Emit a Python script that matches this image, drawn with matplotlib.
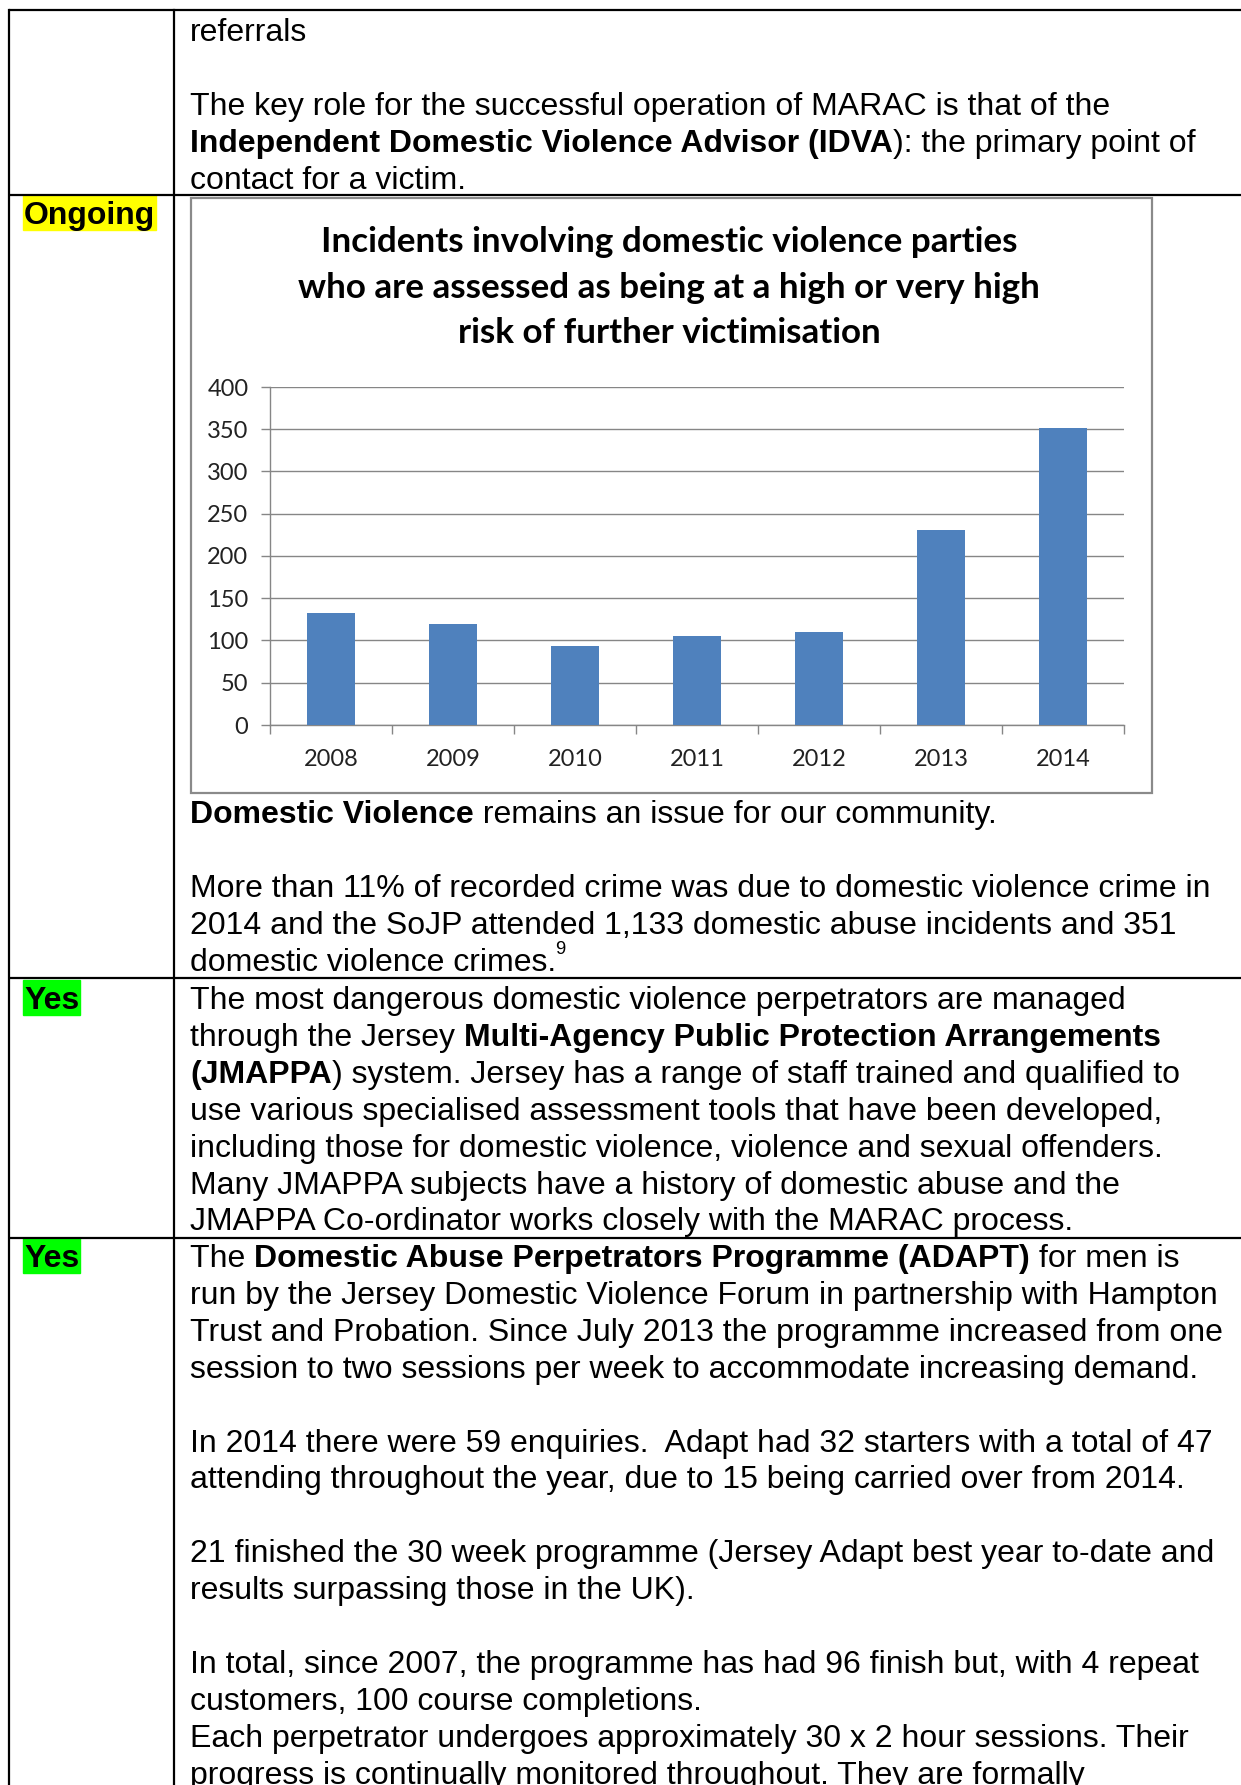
import matplotlib
matplotlib.use("Agg")
import matplotlib.pyplot as plt
from matplotlib.patches import Rectangle
from matplotlib.font_manager import FontProperties

# chart data
years = ["2008", "2009", "2010", "2011", "2012", "2013", "2014"]
incidents = [132, 119, 94, 105, 110, 231, 352]
y_ticks = [0, 50, 100, 150, 200, 250, 300, 350, 400]
chart_title = [
    "Incidents involving domestic violence parties",
    "who are assessed as being at a high or very high",
    "risk of further victimisation",
]

# table text: each line is a list of (text, bold) pieces, [] is a blank line
row1_lines = [
    [("referrals", False)],
    [],
    [("The key role for the successful operation of MARAC is that of the", False)],
    [("Independent Domestic Violence Advisor (IDVA", True), ("): the primary point of", False)],
    [("contact for a victim.", False)],
]
row2_lines = [
    [("Domestic Violence", True), (" remains an issue for our community.", False)],
    [],
    [("More than 11% of recorded crime was due to domestic violence crime in", False)],
    [("2014 and the SoJP attended 1,133 domestic abuse incidents and 351", False)],
    [("domestic violence crimes.", False)],
]
row3_lines = [
    [("The most dangerous domestic violence perpetrators are managed", False)],
    [("through the Jersey ", False), ("Multi-Agency Public Protection Arrangements", True)],
    [("(JMAPPA", True), (") system. Jersey has a range of staff trained and qualified to", False)],
    [("use various specialised assessment tools that have been developed,", False)],
    [("including those for domestic violence, violence and sexual offenders.", False)],
    [("Many JMAPPA subjects have a history of domestic abuse and the", False)],
    [("JMAPPA Co-ordinator works closely with the MARAC process.", False)],
]
row4_lines = [
    [("The ", False), ("Domestic Abuse Perpetrators Programme (ADAPT)", True), (" for men is", False)],
    [("run by the Jersey Domestic Violence Forum in partnership with Hampton", False)],
    [("Trust and Probation. Since July 2013 the programme increased from one", False)],
    [("session to two sessions per week to accommodate increasing demand.", False)],
    [],
    [("In 2014 there were 59 enquiries.  Adapt had 32 starters with a total of 47", False)],
    [("attending throughout the year, due to 15 being carried over from 2014.", False)],
    [],
    [("21 finished the 30 week programme (Jersey Adapt best year to-date and", False)],
    [("results surpassing those in the UK).", False)],
    [],
    [("In total, since 2007, the programme has had 96 finish but, with 4 repeat", False)],
    [("customers, 100 course completions.", False)],
    [("Each perpetrator undergoes approximately 30 x 2 hour sessions. Their", False)],
    [("progress is continually monitored throughout. They are formally", False)],
]

W, H = 1241, 1785
BODY_FONT = "Liberation Sans"
CHART_FONT = "Lato"
LINE_STEP = 36.9

fig = plt.figure(figsize=(W / 100, H / 100), dpi=100)
page = fig.add_axes([0, 0, 1, 1])
page.set_xlim(0, W)
page.set_ylim(H, 0)
page.axis("off")
renderer = fig.canvas.get_renderer()


def text_width(s, family, size, weight="normal"):
    fp = FontProperties(family=family, size=size, weight=weight)
    w1 = renderer.get_text_width_height_descent(s + "|", fp, ismath=False)[0]
    w2 = renderer.get_text_width_height_descent("|", fp, ismath=False)[0]
    return w1 - w2


# fit body font so the long reference line is as wide as in the document
body_size = 23.0 * 1022 / text_width(row2_lines[2][0][0], BODY_FONT, 23.0)


def write_block(y0, lines, x0=190):
    for i, line in enumerate(lines):
        x = x0
        y = y0 + i * LINE_STEP
        for s, bold in line:
            w = "bold" if bold else "normal"
            page.text(x, y, s, family=BODY_FONT, fontsize=body_size,
                      weight=w, va="baseline", ha="left", color="black")
            x += text_width(s, BODY_FONT, body_size, w)
    return x, y0 + (len(lines) - 1) * LINE_STEP


def status(y, label, colour):
    w = text_width(label, BODY_FONT, body_size, "bold")
    page.add_patch(Rectangle((23, y - 29), w + 2, 35, color=colour, zorder=1))
    page.text(24, y, label, family=BODY_FONT, fontsize=body_size,
              weight="bold", va="baseline", zorder=2)


# table grid
lw = 1.6
for yy in [10, 195, 978, 1238]:
    page.plot([9, W], [yy, yy], color="black", lw=lw, solid_capstyle="butt")
page.plot([9, 9], [10, H], color="black", lw=lw)
page.plot([174, 174], [10, H], color="black", lw=lw)

write_block(41, row1_lines)
x_end, y_end = write_block(823, row2_lines)
page.text(x_end - 1, y_end - 17, "9", family=BODY_FONT,
          fontsize=body_size * 0.58, va="baseline")
write_block(1009, row3_lines)
write_block(1267, row4_lines)

status(224, "Ongoing", "#FFFF00")
status(1009, "Yes", "#00FF00")
status(1267, "Yes", "#00FF00")

# chart frame and title
page.add_patch(Rectangle((191, 198), 961, 595, fill=False,
                         edgecolor="#8a8a8a", lw=1.6, zorder=3))
title_size = 20.0 * 741 / text_width(chart_title[1], CHART_FONT, 20.0, "bold")
for i, line in enumerate(chart_title):
    page.text(669, 242 + i * 45.5, line, family=CHART_FONT, weight="bold",
              fontsize=title_size, ha="center", va="center", color="black")

# bar chart
ax = fig.add_axes([270 / W, 1 - 725 / H, (1124 - 270) / W, (725 - 387) / H])
xs = list(range(len(years)))
ax.bar(xs, incidents, width=0.4, color="#4F81BD", zorder=3)
ax.set_xlim(-0.5, len(years) - 0.5)
ax.set_ylim(0, 400)
ax.set_yticks(y_ticks)
ax.set_xticks(xs)
ax.set_xticklabels(years)
ax.set_xticks([x - 0.5 for x in range(len(years) + 1)], minor=True)
ax.yaxis.grid(True, color="#868686", lw=1.0, zorder=0)
ax.set_axisbelow(True)
for side in ["top", "right"]:
    ax.spines[side].set_visible(False)
for side in ["left", "bottom"]:
    ax.spines[side].set_color("#868686")
    ax.spines[side].set_linewidth(1.0)
ax.tick_params(axis="y", length=6.5, width=1.0, color="#868686", pad=9,
               labelsize=17, labelcolor="#222222")
ax.tick_params(axis="x", which="major", length=0, pad=17,
               labelsize=17, labelcolor="#222222")
ax.tick_params(axis="x", which="minor", length=6.5, width=1.0, color="#868686")
for lab in ax.get_xticklabels() + ax.get_yticklabels():
    lab.set_family(CHART_FONT)
ax.patch.set_visible(False)

fig.savefig("out.png", dpi=100)
